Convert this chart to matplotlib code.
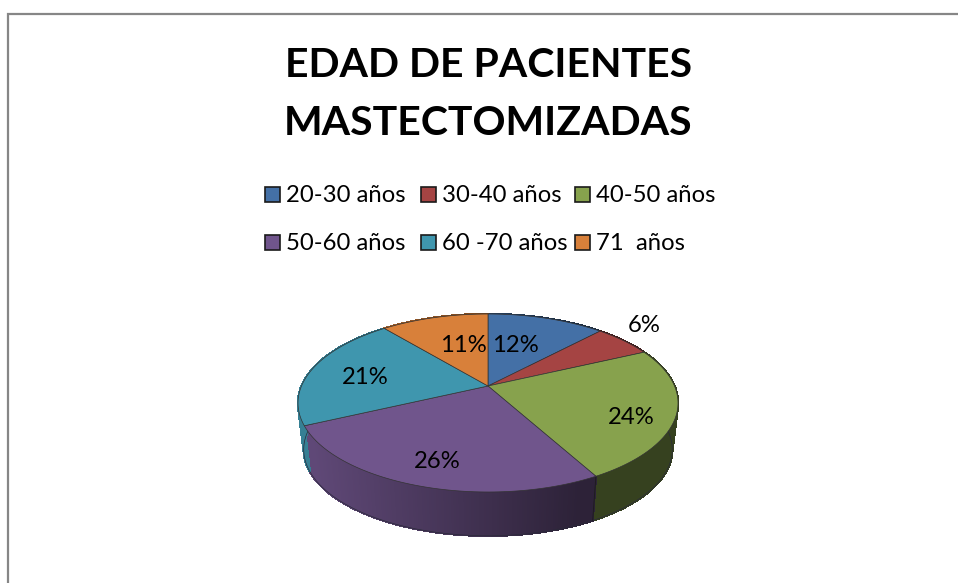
import numpy as np
import matplotlib
matplotlib.use("Agg")
import matplotlib.pyplot as plt
from matplotlib.patches import Polygon, Rectangle

plt.rcParams["font.family"] = ["Lato", "DejaVu Sans"]

# datos
title = "EDAD DE PACIENTES\nMASTECTOMIZADAS"
categories = ["20-30 años", "30-40 años", "40-50 años", "50-60 años", "60 -70 años", "71  años"]
values = [12, 6, 24, 26, 21, 11]
colors = ["#4470a6", "#a54443", "#87a24d", "#70558c", "#3f96ae", "#d8803a"]

# posiciones en pixeles
label_pos = [(515, 346), (644, 326), (631, 417), (437, 462), (365, 377), (463, 346)]
legend_pos = [(265, 194), (421, 194), (575, 194), (265, 242), (421, 242), (575, 242)]

cx, cy = 488, 386
a, b, k = 85.75, 186.5, 0.191
depth, shrink = 47, 0.97


def top_point(theta):
    u, v = np.sin(theta), np.cos(theta)
    d = 1 + k * v
    return cx + b * u / d, cy - a * v / d


def rim_bottom(x, y):
    return cx + shrink * (x - cx), cy + depth + shrink * (y - cy)


def side_shade(c, x):
    f = np.clip(0.85 - 0.47 * (x - 310) / 280, 0.4, 0.85)
    rgb = np.array(matplotlib.colors.to_rgb(c))
    return tuple(rgb * f)


fig = plt.figure(figsize=(9.58, 5.83), dpi=100)
ax = fig.add_axes([0, 0, 1, 1])
ax.set_xlim(0, 958)
ax.set_ylim(583, 0)
ax.axis("off")

# marco (solo arriba e izquierda se ven)
ax.plot([8.5, 8.5, 958], [583, 13.5, 13.5], color="#868686", lw=1.6, solid_joinstyle="miter")

ax.text(488.5, 94.5, title, ha="center", va="center", fontsize=29.5, fontweight="bold",
        color="black", linespacing=1.69)

# leyenda
for name, c, (x, y) in zip(categories, colors, legend_pos):
    ax.add_patch(Rectangle((x, y - 7), 15, 15, facecolor=c, edgecolor="#1a1a1a", lw=1.2))
    ax.text(x + 21, y + 1.5, name, ha="left", va="center", fontsize=17.2, color="black")

bounds = np.cumsum([0] + values) / sum(values) * 2 * np.pi

# lateral
for i, c in enumerate(colors):
    ths = np.linspace(bounds[i], bounds[i + 1], max(2, int((bounds[i + 1] - bounds[i]) * 90)))
    for t0, t1 in zip(ths[:-1], ths[1:]):
        p0, p1 = top_point(t0), top_point(t1)
        q0, q1 = rim_bottom(*p0), rim_bottom(*p1)
        sc = side_shade(c, (p0[0] + p1[0]) / 2)
        ax.add_patch(Polygon([p0, p1, q1, q0], closed=True, facecolor=sc, edgecolor=sc,
                             lw=1.0, antialiased=False, zorder=1))

# contorno y junta del lateral
ths = np.linspace(np.radians(85), np.radians(275), 200)
pts = np.array([rim_bottom(*top_point(t)) for t in ths])
ax.plot(pts[:, 0], pts[:, 1], color="#2a2a3a", lw=0.5, zorder=2)
seam = top_point(bounds[3])
ax.plot([seam[0], rim_bottom(*seam)[0]], [seam[1], rim_bottom(*seam)[1]], color="#1c1c1c", lw=0.6, zorder=2)

# superficie
for i, c in enumerate(colors):
    ths = np.linspace(bounds[i], bounds[i + 1], 80)
    pts = [(cx, cy)] + [top_point(t) for t in ths]
    ax.add_patch(Polygon(pts, closed=True, facecolor=c, edgecolor="#333333", lw=0.5,
                         joinstyle="round", zorder=3))

# etiquetas
for v, (x, y) in zip(values, label_pos):
    ax.text(x, y, f"{v}%", ha="center", va="center", fontsize=17.2, color="black", zorder=4)

fig.savefig("out.png", dpi=100)
